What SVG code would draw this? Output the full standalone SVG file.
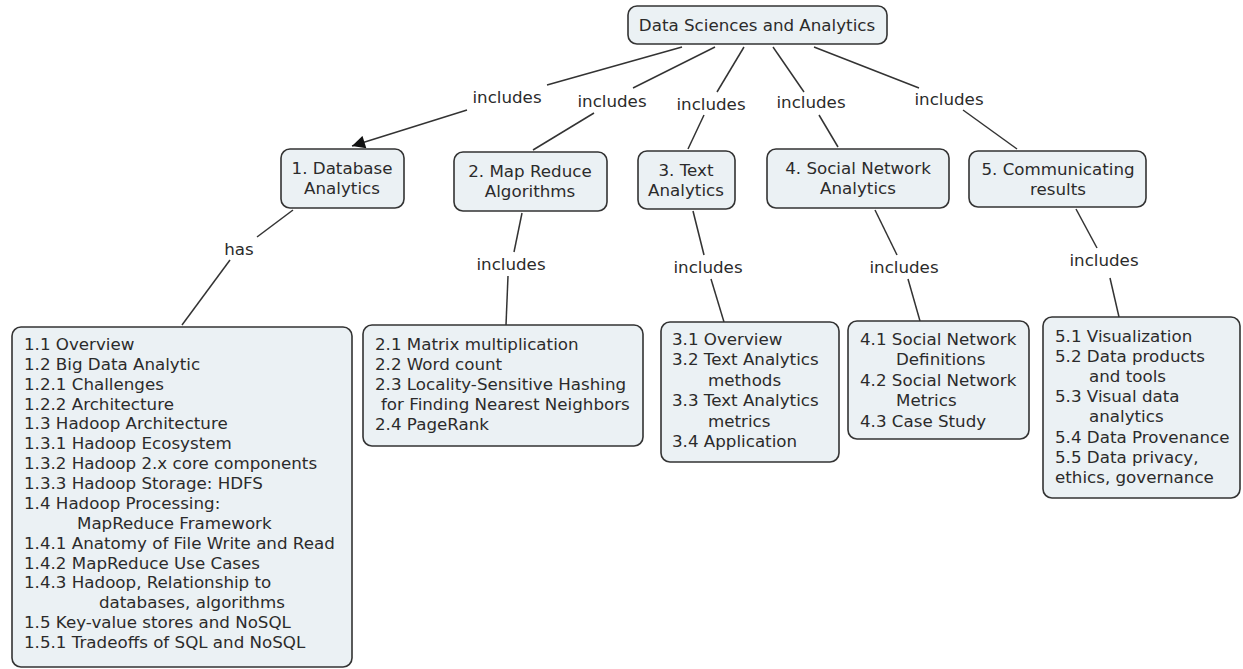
<svg xmlns="http://www.w3.org/2000/svg" width="1243" height="669" viewBox="0 0 1243 669">
<defs>
<style>
.box{fill:#ebf1f4;stroke:#333;stroke-width:1.6}
text{font-family:"DejaVu Sans",Verdana,sans-serif;font-size:16.7px;fill:#2b2b2b}
.c{text-anchor:middle}
.ln{stroke:#333;stroke-width:1.5;fill:none}
</style>
<marker id="arr" viewBox="0 0 10 10" refX="10" refY="5" markerWidth="17" markerHeight="13" markerUnits="userSpaceOnUse" orient="auto"><path d="M0,0 L10,5 L0,10 z" fill="#111"/></marker>
</defs>
<rect width="1243" height="669" fill="#fff"/>
<g id="connectors">
<path class="ln" d="M682,47 L547,85"/>
<path class="ln" d="M467,110 L352,146" marker-end="url(#arr)"/>
<path class="ln" d="M715,47 L633,88"/>
<path class="ln" d="M594,113 L533,150"/>
<path class="ln" d="M744,47 L717,92"/>
<path class="ln" d="M704,115 L688,149"/>
<path class="ln" d="M773,47 L804,92"/>
<path class="ln" d="M819,115 L838,147"/>
<path class="ln" d="M814,47 L919,88"/>
<path class="ln" d="M963,110 L1017,149"/>
<path class="ln" d="M293,210 L257,237"/>
<path class="ln" d="M230,260 L182,325"/>
<path class="ln" d="M522,213 L514,252"/>
<path class="ln" d="M508,276 L506,325"/>
<path class="ln" d="M693,211 L704,255"/>
<path class="ln" d="M711,279 L724,322"/>
<path class="ln" d="M875,210 L897,255"/>
<path class="ln" d="M908,279 L920,321"/>
<path class="ln" d="M1076,209 L1097,248"/>
<path class="ln" d="M1110,278 L1119,317"/>
<text class="c" x="507" y="103">includes</text>
<text class="c" x="612" y="107">includes</text>
<text class="c" x="711" y="110">includes</text>
<text class="c" x="811" y="108">includes</text>
<text class="c" x="949" y="105">includes</text>
<text class="c" x="239" y="255">has</text>
<text class="c" x="511" y="270">includes</text>
<text class="c" x="708" y="273">includes</text>
<text class="c" x="904" y="273">includes</text>
<text class="c" x="1104" y="266">includes</text>
</g>
<g id="root">
<rect class="box" x="628" y="6" width="259" height="38" rx="9"/>
<text class="c" x="757" y="31">Data Sciences and Analytics</text>
</g>
<g id="n1">
<rect class="box" x="281" y="149" width="123" height="59" rx="9"/>
<text class="c" x="342" y="174">1. Database</text>
<text class="c" x="342" y="194">Analytics</text>
</g>
<g id="n2">
<rect class="box" x="454" y="152" width="153" height="59" rx="9"/>
<text class="c" x="530" y="177">2. Map Reduce</text>
<text class="c" x="530" y="197">Algorithms</text>
</g>
<g id="n3">
<rect class="box" x="638" y="151" width="97" height="58" rx="9"/>
<text class="c" x="686" y="176">3. Text</text>
<text class="c" x="686" y="196">Analytics</text>
</g>
<g id="n4">
<rect class="box" x="767" y="149" width="182" height="59" rx="9"/>
<text class="c" x="858" y="174">4. Social Network</text>
<text class="c" x="858" y="194">Analytics</text>
</g>
<g id="n5">
<rect class="box" x="969" y="151" width="177" height="56" rx="9"/>
<text class="c" x="1058" y="175">5. Communicating</text>
<text class="c" x="1058" y="195">results</text>
</g>
<g id="b1">
<rect class="box" x="12" y="327" width="340" height="340" rx="9"/>
<text x="24" y="350">1.1 Overview</text>
<text x="24" y="370">1.2 Big Data Analytic</text>
<text x="24" y="390">1.2.1 Challenges</text>
<text x="24" y="410">1.2.2 Architecture</text>
<text x="24" y="429">1.3 Hadoop Architecture</text>
<text x="24" y="449">1.3.1 Hadoop Ecosystem</text>
<text x="24" y="469">1.3.2 Hadoop 2.x core components</text>
<text x="24" y="489">1.3.3 Hadoop Storage: HDFS</text>
<text x="24" y="509">1.4 Hadoop Processing:</text>
<text x="77" y="529">MapReduce Framework</text>
<text x="24" y="549">1.4.1 Anatomy of File Write and Read</text>
<text x="24" y="569">1.4.2 MapReduce Use Cases</text>
<text x="24" y="588">1.4.3 Hadoop, Relationship to</text>
<text x="99" y="608">databases, algorithms</text>
<text x="24" y="628">1.5 Key-value stores and NoSQL</text>
<text x="24" y="648">1.5.1 Tradeoffs of SQL and NoSQL</text>
</g>
<g id="b2">
<rect class="box" x="363" y="325" width="280" height="121" rx="9"/>
<text x="375" y="350">2.1 Matrix multiplication</text>
<text x="375" y="370">2.2 Word count</text>
<text x="375" y="390">2.3 Locality-Sensitive Hashing</text>
<text x="381" y="410">for Finding Nearest Neighbors</text>
<text x="375" y="430">2.4 PageRank</text>
</g>
<g id="b3">
<rect class="box" x="661" y="322" width="178" height="140" rx="9"/>
<text x="672" y="345">3.1 Overview</text>
<text x="672" y="365">3.2 Text Analytics</text>
<text x="708" y="386">methods</text>
<text x="672" y="406">3.3 Text Analytics</text>
<text x="708" y="427">metrics</text>
<text x="672" y="447">3.4 Application</text>
</g>
<g id="b4">
<rect class="box" x="848" y="321" width="181" height="118" rx="9"/>
<text x="860" y="345">4.1 Social Network</text>
<text x="896" y="365">Definitions</text>
<text x="860" y="386">4.2 Social Network</text>
<text x="896" y="406">Metrics</text>
<text x="860" y="427">4.3 Case Study</text>
</g>
<g id="b5">
<rect class="box" x="1043" y="317" width="197" height="181" rx="9"/>
<text x="1055" y="342">5.1 Visualization</text>
<text x="1055" y="362">5.2 Data products</text>
<text x="1089" y="382">and tools</text>
<text x="1055" y="402">5.3 Visual data</text>
<text x="1089" y="422">analytics</text>
<text x="1055" y="443">5.4 Data Provenance</text>
<text x="1055" y="463">5.5 Data privacy,</text>
<text x="1055" y="483">ethics, governance</text>
</g>
</svg>
